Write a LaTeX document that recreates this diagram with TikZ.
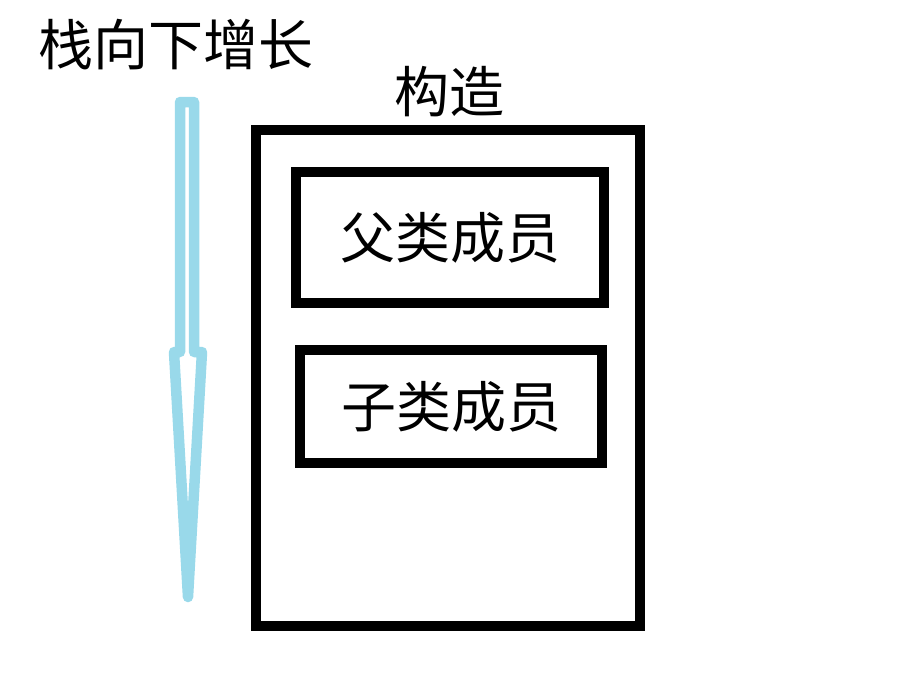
\documentclass[tikz,border=0pt]{standalone}
\usepackage{fontspec}
\newfontfamily\cjk{Noto Sans CJK SC}
\definecolor{stackblue}{RGB}{153,217,234}
\tikzset{
  member/.style={draw, line width=10pt, inner sep=0pt},
  caption/.style={font=\cjk\fontsize{55}{60}\selectfont, inner sep=0pt},
}
\begin{document}
\begin{tikzpicture}[x=1pt, y=-1pt]
    \useasboundingbox (0,0) rectangle (907,686);
    \coordinate (sl) at (180,352);
    \coordinate (tl) at (180,102);
    \coordinate (tr) at (194,102);
    \coordinate (sr) at (194,352);
    \coordinate (hr) at (202,352);
    \coordinate (tip) at (188,597);
    \coordinate (hl) at (174,352); % Head of the stack arrow

    % Arrow
    \draw[line width=10.5pt, stackblue, line join=round] (sl) -- (tl) -- (tr) -- (sr) -- (hr) -- (tip) -- (hl) -- cycle;

    % Boxes
    \node[member, minimum width=384pt, minimum height=496pt] (obj) at (448,378) {};
    \node[member, caption, minimum width=308pt, minimum height=131pt] (base) at (450,237.5) {父类成员};
    \node[member, caption, minimum width=302pt, minimum height=113pt] (derived) at (451,406.5) {子类成员};

    % Labels
    \node[caption] (grow) at (176,45) {栈向下增长};
    \node[caption] (ctor) at (449,92) {构造};
\end{tikzpicture}
\end{document}
